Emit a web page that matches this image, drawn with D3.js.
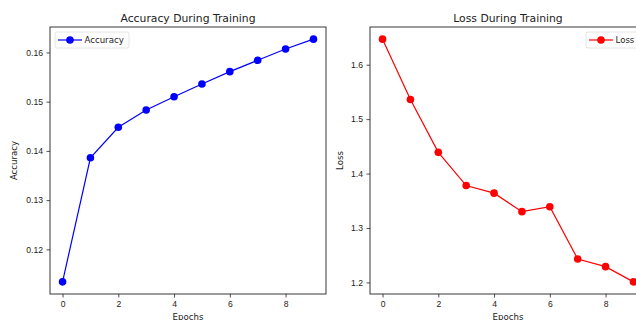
<!DOCTYPE html>
<html>
<head>
<meta charset="utf-8">
<script src="https://cdn.jsdelivr.net/npm/d3@7"></script>
<style>
  body { margin: 0; background: #fff; }
  svg { display: block; font-family: "DejaVu Sans", sans-serif; }
  .tick text { font-size: 8.6px; fill: #222; }
  .tick line { stroke: #222; stroke-width: 0.8; }
  .domain { display: none; }
</style>
</head>
<body>
<div id="chart"></div>
<script>
var epochs = [0, 1, 2, 3, 4, 5, 6, 7, 8, 9];
var accuracy = [0.1134, 0.1386, 0.1448, 0.1483, 0.1510, 0.1536, 0.1561, 0.1584, 0.1607, 0.1627];
var loss = [1.647, 1.536, 1.439, 1.378, 1.364, 1.330, 1.339, 1.243, 1.229, 1.201];
var xTicks = [0, 2, 4, 6, 8];
var accTicks = [0.12, 0.13, 0.14, 0.15, 0.16];
var lossTicks = [1.2, 1.3, 1.4, 1.5, 1.6];

var width = 636, height = 320;

var svg = d3.select("#chart").append("svg")
            .attr("width", width)
            .attr("height", height);

// matplotlib style 5% padding around the data
function padded(ext) {
  var m = (ext[1] - ext[0]) * 0.05;
  return [ext[0] - m, ext[1] + m];
}

function panel(opts) {
  var x = d3.scaleLinear().domain(padded(d3.extent(epochs))).range([opts.left, opts.right]);
  var y = d3.scaleLinear().domain(padded(d3.extent(opts.values))).range([opts.bottom, opts.top]);

  var g = svg.append("g");

  g.append("g")
    .attr("transform", "translate(0," + opts.bottom + ")")
    .call(d3.axisBottom(x).tickValues(xTicks).tickSize(3.5).tickPadding(3.5).tickFormat(d3.format("d")));

  g.append("g")
    .attr("transform", "translate(" + opts.left + ",0)")
    .call(d3.axisLeft(y).tickValues(opts.ticks).tickSize(3.5).tickPadding(3.5).tickFormat(opts.fmt));

  g.append("rect")
    .attr("x", opts.left)
    .attr("y", opts.top)
    .attr("width", opts.right - opts.left)
    .attr("height", opts.bottom - opts.top)
    .attr("fill", "none")
    .attr("stroke", "#222")
    .attr("stroke-width", 0.9);

  var line = d3.line()
               .x((d, i) => x(epochs[i]))
               .y(d => y(d));

  g.append("path")
    .datum(opts.values)
    .attr("d", line)
    .attr("fill", "none")
    .attr("stroke", opts.color)
    .attr("stroke-width", 1.2);

  g.selectAll(".pt")
    .data(opts.values)
    .enter().append("circle")
    .attr("cx", (d, i) => x(epochs[i]))
    .attr("cy", d => y(d))
    .attr("r", 3.8)
    .attr("fill", opts.color);

  var cx = (opts.left + opts.right) / 2;
  g.append("text")
    .attr("x", cx)
    .attr("y", 21.5)
    .attr("text-anchor", "middle")
    .attr("font-size", 10.8)
    .attr("fill", "#222")
    .text(opts.title);

  g.append("text")
    .attr("x", cx)
    .attr("y", 319.5)
    .attr("text-anchor", "middle")
    .attr("font-size", 8.6)
    .attr("fill", "#222")
    .text("Epochs");

  g.append("text")
    .attr("transform", "translate(" + opts.ylabelX + "," + ((opts.top + opts.bottom) / 2) + ") rotate(-90)")
    .attr("text-anchor", "middle")
    .attr("font-size", 8.6)
    .attr("fill", "#222")
    .text(opts.ylabel);

  // legend
  var lw = opts.legendW, lh = 16;
  var lx = opts.legendRight ? opts.right - 5 - lw : opts.left + 5;
  var ly = opts.top + 5;
  var leg = g.append("g").attr("transform", "translate(" + lx + "," + ly + ")");
  leg.append("rect")
     .attr("width", lw).attr("height", lh).attr("rx", 2)
     .attr("fill", "#fff").attr("stroke", "#ddd").attr("stroke-width", 0.8);
  leg.append("line")
     .attr("x1", 3).attr("x2", 27).attr("y1", lh / 2).attr("y2", lh / 2)
     .attr("stroke", opts.color).attr("stroke-width", 1.2);
  leg.append("circle")
     .attr("cx", 15).attr("cy", lh / 2).attr("r", 3.8).attr("fill", opts.color);
  leg.append("text")
     .attr("x", 29.5).attr("y", lh / 2 + 3.2)
     .attr("font-size", 8.6).attr("fill", "#222")
     .text(opts.label);
}

panel({
  left: 50, right: 326, top: 27, bottom: 294,
  values: accuracy, ticks: accTicks, fmt: d3.format(".2f"),
  color: "#0000ff", title: "Accuracy During Training",
  ylabel: "Accuracy", ylabelX: 16.5, label: "Accuracy",
  legendW: 74, legendRight: false
});

panel({
  left: 370, right: 646, top: 27, bottom: 294,
  values: loss, ticks: lossTicks, fmt: d3.format(".1f"),
  color: "#ff0000", title: "Loss During Training",
  ylabel: "Loss", ylabelX: 343, label: "Loss",
  legendW: 55, legendRight: true
});
</script>
</body>
</html>
